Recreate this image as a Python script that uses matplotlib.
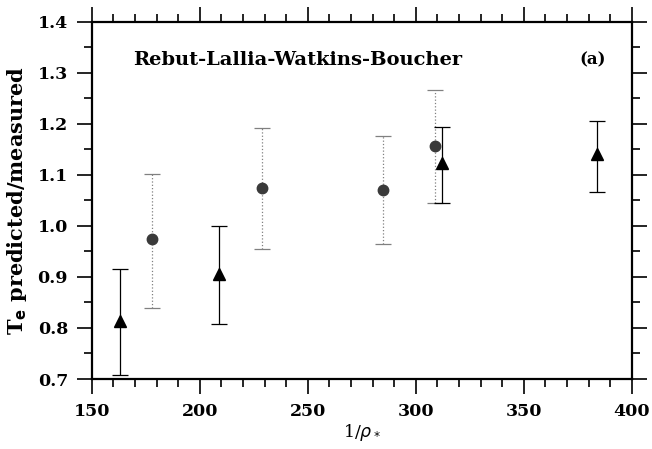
import matplotlib.pyplot as plt
from matplotlib.ticker import MultipleLocator

# triangles (solid error bars)
tri_x = [163, 209, 312, 384]
tri_y = [0.814, 0.906, 1.123, 1.140]
tri_lo = [0.708, 0.807, 1.044, 1.066]
tri_hi = [0.915, 1.000, 1.194, 1.205]

# circles (dotted error bars)
cir_x = [178, 229, 285, 309]
cir_y = [0.974, 1.075, 1.070, 1.157]
cir_lo = [0.840, 0.955, 0.964, 1.044]
cir_hi = [1.102, 1.191, 1.177, 1.266]

fig = plt.figure(figsize=(6.52, 4.49), dpi=100)
ax = fig.add_axes([91.7 / 652, 1 - 379 / 449, 540 / 652, 357.3 / 449])

bold = {'family': 'DejaVu Serif', 'weight': 'bold'}

e1 = ax.errorbar(cir_x, cir_y,
                 yerr=[[y - l for y, l in zip(cir_y, cir_lo)],
                       [h - y for y, h in zip(cir_y, cir_hi)]],
                 fmt='o', color='#3a3a3a', ecolor='#808080', ms=7.5,
                 elinewidth=0.9, capsize=6, capthick=0.9)
e1[2][0].set_linestyle(':')

ax.errorbar(tri_x, tri_y,
            yerr=[[y - l for y, l in zip(tri_y, tri_lo)],
                  [h - y for y, h in zip(tri_y, tri_hi)]],
            fmt='^', color='black', ecolor='black', ms=8.5,
            elinewidth=0.9, capsize=6, capthick=0.9)

ax.set_xlim(150, 400)
ax.set_ylim(0.7, 1.4)
ax.xaxis.set_major_locator(MultipleLocator(50))
ax.xaxis.set_minor_locator(MultipleLocator(10))
ax.yaxis.set_minor_locator(MultipleLocator(0.05))
ax.set_yticks([0.7, 0.8, 0.9, 1.0, 1.1, 1.2, 1.3, 1.4])
ax.set_yticklabels(['0.7', '0.8', '0.9', '1.0', '1.1', '1.2', '1.3', '1.4'])
ax.tick_params(which='both', direction='out', top=True, right=True,
               labelright=False, labeltop=False, width=1.2)
ax.tick_params(which='major', length=11, pad=6)
ax.tick_params(which='minor', length=6)
for lab in ax.get_xticklabels() + ax.get_yticklabels():
    lab.set_fontfamily('DejaVu Serif')
    lab.set_fontweight('bold')
    lab.set_fontsize(12.5)
for s in ax.spines.values():
    s.set_linewidth(1.6)

ax.text(0.0765, 0.893, 'Rebut-Lallia-Watkins-Boucher', transform=ax.transAxes,
        va='center', fontsize=14, **bold)
ax.text(0.952, 0.893, '(a)', transform=ax.transAxes, ha='right', va='center',
        fontsize=12, **bold)

ax.set_ylabel(r'T$_\mathbf{e}$ predicted/measured', fontsize=15, labelpad=6, **bold)
ax.set_xlabel(r'1/$\rho_*$', fontsize=12.5, family='DejaVu Serif', labelpad=2)

fig.savefig('out.png', dpi=100)
